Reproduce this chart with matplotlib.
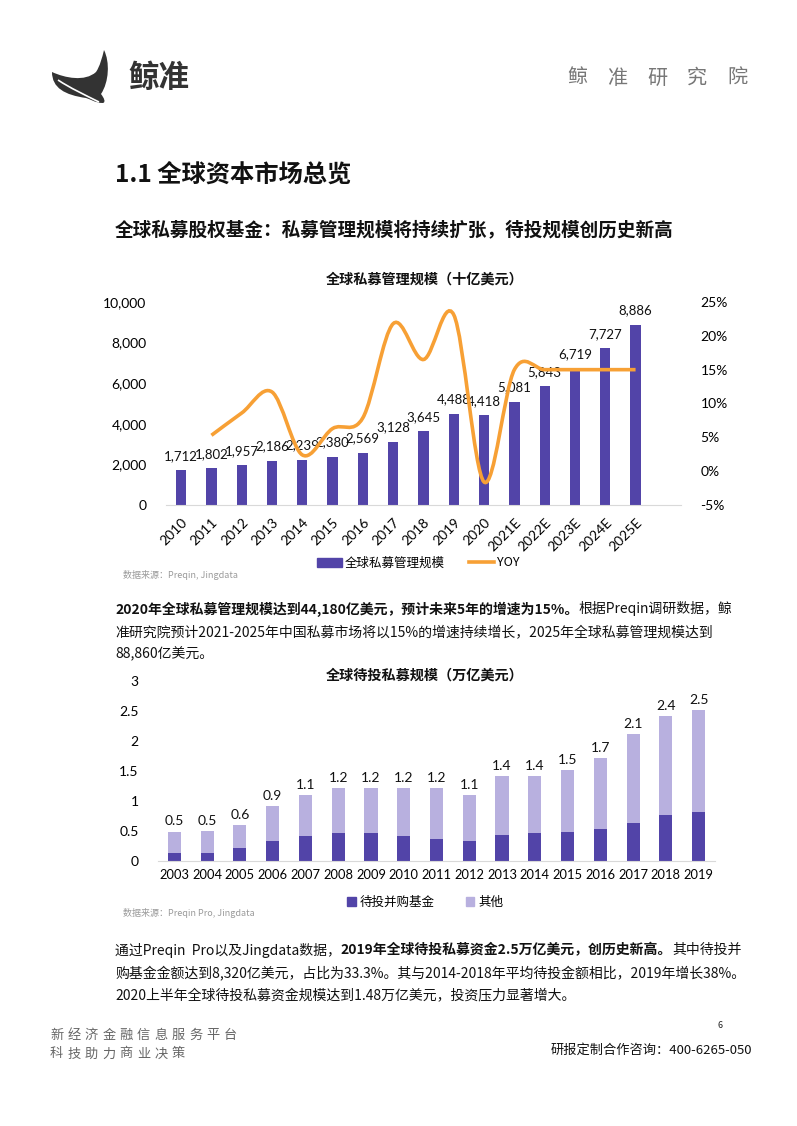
import matplotlib
matplotlib.use("Agg")
import matplotlib.pyplot as plt
from matplotlib.path import Path
from matplotlib.patches import PathPatch, Patch
from matplotlib.lines import Line2D
import numpy as np

# ---- data: chart 1 ----
years1 = ['2010', '2011', '2012', '2013', '2014', '2015', '2016', '2017',
          '2018', '2019', '2020', '2021E', '2022E', '2023E', '2024E', '2025E']
aum = [1712, 1802, 1957, 2186, 2239, 2380, 2569, 3128, 3645, 4488, 4418,
       5081, 5843, 6719, 7727, 8886]
aum_labels = ['1,712', '1,802', '1,957', '2,186', '2,239', '2,380', '2,569', '3,128',
              '3,645', '4,488', '4,418', '5,081', '5,843', '6,719', '7,727', '8,886']
yoy_years = years1[1:]
yoy = [5.3, 8.6, 11.7, 2.4, 6.3, 7.9, 21.8, 16.5, 23.1, -1.6, 15.0, 15.0, 15.0, 15.0, 15.0]

# ---- data: chart 2 ----
years2 = ['2003', '2004', '2005', '2006', '2007', '2008', '2009', '2010', '2011',
          '2012', '2013', '2014', '2015', '2016', '2017', '2018', '2019']
buyout = [0.14, 0.13, 0.22, 0.33, 0.41, 0.46, 0.46, 0.41, 0.37, 0.33, 0.44, 0.46,
          0.48, 0.54, 0.64, 0.76, 0.81]
other = [0.35, 0.37, 0.38, 0.58, 0.69, 0.75, 0.75, 0.80, 0.84, 0.77, 0.97, 0.95,
         1.03, 1.17, 1.47, 1.65, 1.71]
total_labels = ['0.5', '0.5', '0.6', '0.9', '1.1', '1.2', '1.2', '1.2', '1.2', '1.1',
                '1.4', '1.4', '1.5', '1.7', '2.1', '2.4', '2.5']

CJK = ['Noto Sans CJK SC', 'DejaVu Sans']
NUM = ['Lato', 'Noto Sans CJK SC', 'DejaVu Sans']
PURPLE = '#5244A8'
LAVENDER = '#B8B0DF'
ORANGE = '#F7A035'

W, H = 797, 1126
fig = plt.figure(figsize=(W / 100, H / 100), dpi=100)
fig.patch.set_facecolor('white')


def fx(x):
    return x / W


def fy(y):
    return 1 - y / H


def ftext(x, y, s, **kw):
    kw.setdefault('family', CJK)
    return fig.text(fx(x), fy(y), s, **kw)


def spaced(x, y, s, step, **kw):
    for i, ch in enumerate(s):
        ftext(x + i * step, y, ch, **kw)


renderer = fig.canvas.get_renderer()


def rich_line(x, y, parts, size=10):
    for s, bold in parts:
        t = ftext(x, y, s, fontsize=size, fontweight='bold' if bold else 'normal',
                  color='#111111', va='center', ha='left')
        x = t.get_window_extent(renderer).x1


# ---- header: whale logo + name ----
C4 = Path.CURVE4
logo_pts = [(52, 72),
            (65, 78), (85, 82), (96, 72),
            (100, 66), (102, 58), (104, 50),
            (110, 62), (109, 82), (101, 94),
            (104, 98), (106, 102), (103, 103),
            (95, 103), (90, 99), (86, 98),
            (65, 95), (52, 88), (52, 72)]
logo_codes = [Path.MOVETO] + [C4] * 18
logo = Path([(fx(a), fy(b)) for a, b in logo_pts], logo_codes)
fig.patches.append(PathPatch(logo, transform=fig.transFigure, facecolor='#333333',
                             edgecolor='none'))
swoosh = Path([(fx(a), fy(b)) for a, b in [(58, 80), (70, 88), (85, 95), (99, 102)]],
              [Path.MOVETO, C4, C4, C4])
fig.patches.append(PathPatch(swoosh, transform=fig.transFigure, facecolor='none',
                             edgecolor='white', lw=1.2))
ftext(128, 78, '鲸准', fontsize=22, fontweight='bold', color='#333333', va='center')
spaced(567, 78, '鲸准研究院', 40, fontsize=14.5, color='#777777', va='center')

ftext(115, 175, '1.1 全球资本市场总览', fontsize=17.5, fontweight='bold', color='#111111',
      va='center')
ftext(115, 230, '全球私募股权基金：私募管理规模将持续扩张，待投规模创历史新高', fontsize=13.4,
      fontweight='bold', color='#111111', va='center')

# ---- chart 1 ----
ax1 = fig.add_axes([fx(166), fy(505), (681 - 166) / W, (505 - 302) / H])
x1 = np.arange(len(years1))
ax1.bar(x1, aum, width=0.34, color=PURPLE, zorder=2)
for xi, v, lab in zip(x1, aum, aum_labels):
    ax1.annotate(lab, (xi, v), xytext=(0, 6), textcoords='offset points', ha='center',
                 va='bottom', fontsize=9.5, family=NUM, color='#111111', zorder=5)
ax1.set_xlim(-0.5, 16.5)
ax1.set_ylim(0, 10000)
ax1.set_yticks([0, 2000, 4000, 6000, 8000, 10000])
ax1.set_yticklabels(['0', '2,000', '4,000', '6,000', '8,000', '10,000'], family=NUM,
                    fontsize=10)
ax1.set_xticks(x1)
ax1.set_xticklabels(years1, rotation=45, ha='right', rotation_mode='anchor', family=NUM,
                    fontsize=10)
ax1.tick_params(length=0, pad=8)
ax1.tick_params(axis='y', pad=14)
for sp in ['top', 'right', 'left']:
    ax1.spines[sp].set_visible(False)
ax1.spines['bottom'].set_color('#D9D9D9')
ax1.patch.set_alpha(0)

ax2 = ax1.twinx()
ax2.set_ylim(-5, 25)
ax2.set_yticks([-5, 0, 5, 10, 15, 20, 25])
ax2.set_yticklabels(['-5%', '0%', '5%', '10%', '15%', '20%', '25%'], family=NUM,
                    fontsize=10)
ax2.tick_params(length=0, pad=14)
for sp in ax2.spines.values():
    sp.set_visible(False)

# smoothed YOY line (Catmull-Rom style bezier through the data points)
px = np.array([years1.index(y) for y in yoy_years], dtype=float)
py = np.array(yoy, dtype=float)
pts = np.column_stack([px, py])
verts = [pts[0]]
codes = [Path.MOVETO]
n = len(pts)
for i in range(n - 1):
    p0 = pts[i - 1] if i > 0 else pts[i]
    p1, p2 = pts[i], pts[i + 1]
    p3 = pts[i + 2] if i + 2 < n else pts[i + 1]
    verts += [p1 + (p2 - p0) / 6, p2 - (p3 - p1) / 6, p2]
    codes += [C4] * 3
ax2.add_patch(PathPatch(Path(verts, codes), facecolor='none', edgecolor=ORANGE, lw=2.6,
                        zorder=4, capstyle='butt'))

ftext(425, 280, '全球私募管理规模（十亿美元）', fontsize=10.2, fontweight='bold', ha='center',
      va='center', color='#111111')
fig.legend(handles=[Patch(color=PURPLE, label='全球私募管理规模'),
                    Line2D([], [], color=ORANGE, lw=2.6, label='YOY')],
           loc='center', bbox_to_anchor=(fx(418), fy(563)), ncol=2, frameon=False,
           prop={'family': CJK, 'size': 9}, handlelength=2.0, handleheight=0.7,
           handletextpad=0.2, columnspacing=2.0)
ftext(123, 575, '数据来源：Preqin, Jingdata', fontsize=6.5, style='italic', color='#9A9A9A',
      va='center')

# ---- paragraph 1 ----
rich_line(115, 609, [('2020年全球私募管理规模达到44,180亿美元，预计未来5年的增速为15%。', True),
                     ('根据Preqin调研数据，鲸', False)])
rich_line(115, 632, [('准研究院预计2021-2025年中国私募市场将以15%的增速持续增长，2025年全球私募管理规模达到', False)])
rich_line(115, 654, [('88,860亿美元。', False)])

# ---- chart 2 ----
ax3 = fig.add_axes([fx(158), fy(861), (715 - 158) / W, (861 - 681) / H])
x2 = np.arange(len(years2))
ax3.bar(x2, buyout, width=0.4, color=PURPLE, zorder=2)
ax3.bar(x2, other, width=0.4, bottom=buyout, color=LAVENDER, zorder=2)
for xi, b, o, lab in zip(x2, buyout, other, total_labels):
    ax3.annotate(lab, (xi, b + o), xytext=(0, 3), textcoords='offset points', ha='center',
                 va='bottom', fontsize=10, family=NUM, color='#111111')
ax3.set_xlim(-0.5, 16.5)
ax3.set_ylim(0, 3)
ax3.set_yticks([0, 0.5, 1, 1.5, 2, 2.5, 3])
ax3.set_yticklabels(['0', '0.5', '1', '1.5', '2', '2.5', '3'], family=NUM, fontsize=10)
ax3.set_xticks(x2)
ax3.set_xticklabels(years2, family=NUM, fontsize=9.3)
ax3.tick_params(length=0, pad=6)
ax3.tick_params(axis='y', pad=14)
for sp in ['top', 'right', 'left']:
    ax3.spines[sp].set_visible(False)
ax3.spines['bottom'].set_color('#D9D9D9')

ftext(425, 676, '全球待投私募规模（万亿美元）', fontsize=10.2, fontweight='bold', ha='center',
      va='center', color='#111111')
fig.legend(handles=[Patch(color=PURPLE, label='待投并购基金'),
                    Patch(color=LAVENDER, label='其他')],
           loc='center', bbox_to_anchor=(fx(425), fy(902)), ncol=2, frameon=False,
           prop={'family': CJK, 'size': 9}, handlelength=0.7, handleheight=0.7,
           handletextpad=0.3, columnspacing=2.5)
ftext(123, 913, '数据来源：Preqin Pro, Jingdata', fontsize=6.5, style='italic',
      color='#9A9A9A', va='center')

# ---- paragraph 2 ----
rich_line(115, 950, [('通过Preqin  Pro以及Jingdata数据，', False),
                     ('2019年全球待投私募资金2.5万亿美元，创历史新高。', True),
                     ('其中待投并', False)])
rich_line(115, 973, [('购基金金额达到8,320亿美元，占比为33.3%。其与2014-2018年平均待投金额相比，2019年增长38%。', False)])
rich_line(115, 996, [('2020上半年全球待投私募资金规模达到1.48万亿美元，投资压力显著增大。', False)])

# ---- footer ----
spaced(50, 1035, '新经济金融信息服务平台', 17.4, fontsize=9.5, color='#666666', va='center')
spaced(50, 1054, '科技助力商业决策', 17.4, fontsize=9.5, color='#666666', va='center')
ftext(717, 1026, '6', fontsize=6.5, color='#222222', va='center')
ftext(752, 1050, '研报定制合作咨询：400-6265-050', fontsize=9.5, color='#111111',
      ha='right', va='center')

fig.savefig('out.png', dpi=100, facecolor='white')
